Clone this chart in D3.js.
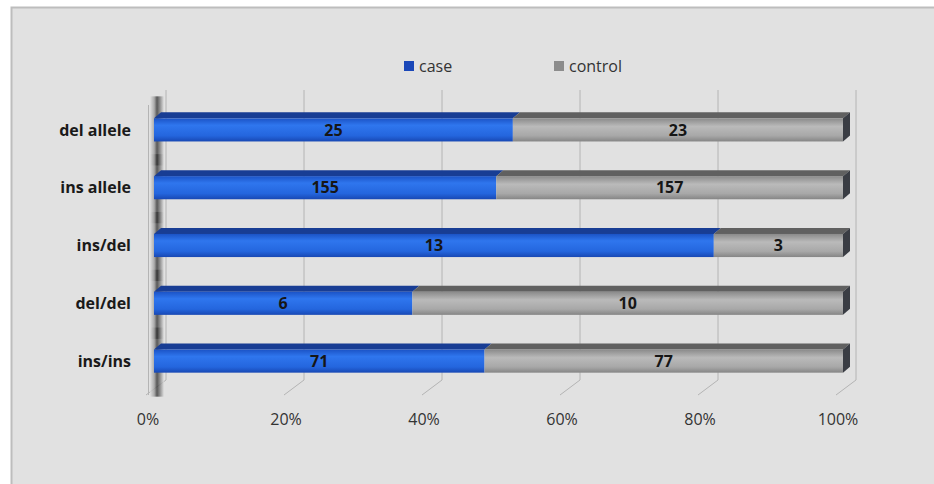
<!DOCTYPE html>
<html>
<head>
<meta charset="utf-8">
<script src="https://cdn.jsdelivr.net/npm/d3@7"></script>
<style>
  html, body { margin: 0; padding: 0; background: #fff; }
  svg { display: block; font-family: "Open Sans", "Noto Sans", sans-serif; }
</style>
</head>
<body>
<div id="chart"></div>
<script>
let categories = ['del allele', 'ins allele', 'ins/del', 'del/del', 'ins/ins'];
let caseVals = [25, 155, 13, 6, 71];
let controlVals = [23, 157, 3, 10, 77];
let seriesNames = ['case', 'control'];
let tickVals = [0, 0.2, 0.4, 0.6, 0.8, 1];

let width = 934, height = 484;
let depthX = 7, depthY = 6;       // bar depth
let floorDX = -20, floorDY = 15;  // wall -> front edge

let rows = categories.map(function(c, i) {
    return { cat: c, case: caseVals[i], control: controlVals[i] };
});
let stack = d3.stack().keys(seriesNames).offset(d3.stackOffsetExpand);
let layers = stack(rows);

let svg = d3.select('#chart').append('svg')
    .attr('width', width).attr('height', height);

let defs = svg.append('defs');
function vgrad(id, stops) {
    let g = defs.append('linearGradient').attr('id', id)
        .attr('x1', 0).attr('y1', 0).attr('x2', 0).attr('y2', 1);
    stops.forEach(function(s) {
        g.append('stop').attr('offset', s[0]).attr('stop-color', s[1]);
    });
}
vgrad('g-case', [[0, '#1b53c6'], [0.3, '#2f76ee'], [0.75, '#2466de'], [1, '#1848b4']]);
vgrad('g-control', [[0, '#8a8a8a'], [0.35, '#bababa'], [0.75, '#a8a8a8'], [1, '#858585']]);

// left wall shading, horizontal
let wallG = defs.append('linearGradient').attr('id', 'g-wall')
    .attr('x1', 0).attr('y1', 0).attr('x2', 1).attr('y2', 0);
[[0, '#e1e1e1'], [0.3, '#9a9a9a'], [0.5, '#2a2a2a'], [0.72, '#777'], [1, '#e1e1e1']].forEach(function(s) {
    wallG.append('stop').attr('offset', s[0]).attr('stop-color', s[1]);
});

let colors = { case: 'url(#g-case)', control: 'url(#g-control)' };
let topColors = { case: '#183d94', control: '#606060' };
let swatch = { case: '#1a47b8', control: '#8c8c8c' };

// background frame
svg.append('rect')
    .attr('x', 11.5).attr('y', 7.5)
    .attr('width', width).attr('height', height)
    .attr('fill', '#e1e1e1')
    .attr('stroke', '#bdbdbd').attr('stroke-width', 2);

// scales
let xScale = d3.scaleLinear().domain([0, 1]).range([154, 843]);
let xBack = d3.scaleLinear().domain([0, 1]).range([166, 856]);
let yScale = d3.scaleBand().domain(categories).range([101, 390]).paddingInner(0.6).paddingOuter(0.3);

let wallTop = 90, wallBottom = 380;

// back wall grid lines + floor lines
let grid = svg.append('g');
grid.selectAll('line.v')
    .data(tickVals).enter().append('line')
    .attr('x1', d => xBack(d)).attr('x2', d => xBack(d))
    .attr('y1', wallTop).attr('y2', wallBottom)
    .attr('stroke', '#b4b4b4').attr('stroke-width', 1);
grid.selectAll('line.f')
    .data(tickVals).enter().append('line')
    .attr('x1', d => xBack(d)).attr('x2', d => xBack(d) + floorDX)
    .attr('y1', wallBottom).attr('y2', wallBottom + floorDY)
    .attr('stroke', '#b4b4b4').attr('stroke-width', 1);

// left wall
let wall = svg.append('g');
wall.selectAll('rect.shade')
    .data(categories).enter().append('rect')
    .attr('x', 150).attr('width', 14)
    .attr('y', d => yScale(d) - 22)
    .attr('height', yScale.bandwidth() + 46)
    .attr('fill', 'url(#g-wall)')
    .attr('opacity', 0.75);
wall.append('line')
    .attr('x1', 148.5).attr('x2', 148.5)
    .attr('y1', wallTop + floorDY).attr('y2', wallBottom + floorDY)
    .attr('stroke', '#b4b4b4');

// bars
let barH = yScale.bandwidth();
let segs = [];
layers.forEach(function(layer) {
    layer.forEach(function(d, i) {
        segs.push({ key: layer.key, cat: categories[i], x0: d[0], x1: d[1], val: d.data[layer.key] });
    });
});

let bars = svg.append('g');
// top faces
bars.selectAll('polygon.top')
    .data(segs).enter().append('polygon')
    .attr('points', function(d) {
        let a = xScale(d.x0), b = xScale(d.x1), y = yScale(d.cat);
        return [[a, y], [a + depthX, y - depthY], [b + depthX, y - depthY], [b, y]].join(' ');
    })
    .attr('fill', d => topColors[d.key]);
// front faces
bars.selectAll('rect.front')
    .data(segs).enter().append('rect')
    .attr('x', d => xScale(d.x0))
    .attr('y', d => yScale(d.cat))
    .attr('width', d => xScale(d.x1) - xScale(d.x0))
    .attr('height', barH)
    .attr('fill', d => colors[d.key]);
// end caps
bars.selectAll('polygon.end')
    .data(segs.filter(d => d.x1 === 1)).enter().append('polygon')
    .attr('points', function(d) {
        let b = xScale(d.x1), y = yScale(d.cat);
        return [[b, y], [b + depthX, y - depthY], [b + depthX, y + barH - depthY], [b, y + barH]].join(' ');
    })
    .attr('fill', '#3a3d44');

// value labels
svg.append('g').selectAll('text')
    .data(segs).enter().append('text')
    .text(d => d.val)
    .attr('x', d => (xScale(d.x0) + xScale(d.x1)) / 2)
    .attr('y', d => yScale(d.cat) + barH / 2)
    .attr('dy', '0.36em')
    .attr('text-anchor', 'middle')
    .attr('font-size', 16).attr('font-weight', 'bold')
    .attr('fill', '#161616');

// category labels
svg.append('g').selectAll('text')
    .data(categories).enter().append('text')
    .text(d => d)
    .attr('x', 131)
    .attr('y', d => yScale(d) + barH / 2)
    .attr('dy', '0.36em')
    .attr('text-anchor', 'end')
    .attr('font-size', 16).attr('font-weight', 'bold')
    .attr('fill', '#1a1a1a');

// x tick labels
svg.append('g').selectAll('text')
    .data(tickVals).enter().append('text')
    .text(d => d3.format('.0%')(d))
    .attr('x', d => xBack(d) + floorDX + 2)
    .attr('y', 425)
    .attr('text-anchor', 'middle')
    .attr('font-size', 16)
    .attr('fill', '#333');

// legend
let legendX = { case: 404, control: 554 };
let legend = svg.append('g').selectAll('g')
    .data(seriesNames).enter().append('g')
    .attr('transform', d => 'translate(' + legendX[d] + ',61)');
legend.append('rect')
    .attr('width', 10).attr('height', 10)
    .attr('fill', d => swatch[d]);
legend.append('text')
    .text(d => d)
    .attr('x', 15).attr('y', 10.5)
    .attr('font-size', 16)
    .attr('fill', '#333');
</script>
</body>
</html>
